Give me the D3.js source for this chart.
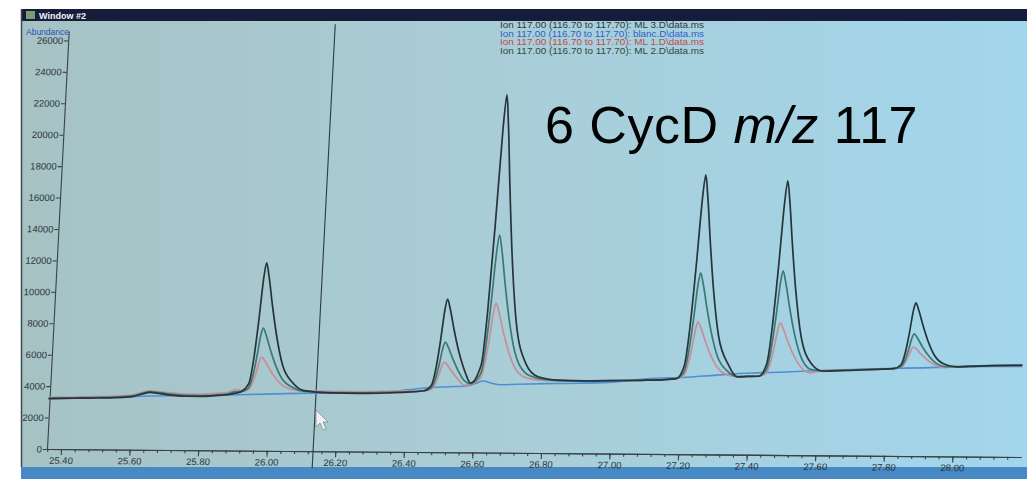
<!DOCTYPE html>
<html>
<head>
<meta charset="utf-8">
<script src="https://cdn.jsdelivr.net/npm/d3@7"></script>
<style>
	body {margin: 0; background: #fff;}
	svg {display: block; font-family: "Liberation Sans", Arial, sans-serif;}
	.axis path, .axis line {stroke: #3a4246; stroke-width: 1.1;}
	.axis text {fill: #2c3336; font-size: 9.5px;}
	.legend text {font-size: 8.2px;}
</style>
</head>
<body>
<div id="graphic"></div>
<script>
// =========================================
// ion chromatogram, m/z 117 (photo of a ChemStation window)
// =========================================

// retention times (min) shared by the three ML runs
var mlTimes = [
	25.356, 25.40, 25.45, 25.50, 25.55, 25.60, 25.63, 25.65, 25.68, 25.72, 25.76, 25.80, 25.84, 25.88, 25.90,
	25.916, 25.937, 25.948, 25.957, 25.965, 25.971, 25.980, 25.994, 26.011, 26.033, 26.066,
	26.10, 26.18, 26.26, 26.34, 26.40,
	26.449, 26.470, 26.481, 26.490, 26.498, 26.504, 26.513, 26.527, 26.544, 26.566,
	26.584,
	26.612, 26.623, 26.632, 26.640, 26.646, 26.655, 26.669, 26.686, 26.708, 26.741,
	26.78, 26.84, 26.92, 27.00, 27.08, 27.14,
	27.183, 27.204, 27.215, 27.224, 27.232, 27.238, 27.247, 27.261, 27.278, 27.300, 27.333,
	27.36, 27.39,
	27.423, 27.444, 27.455, 27.464, 27.472, 27.478, 27.487, 27.501, 27.518, 27.540, 27.573,
	27.61, 27.66, 27.72, 27.77,
	27.815, 27.836, 27.847, 27.856, 27.864, 27.870, 27.879, 27.893, 27.910, 27.932, 27.965,
	28.00, 28.06, 28.12, 28.19
];

var ml3Abund = [
	3200, 3230, 3250, 3270, 3300, 3380, 3560, 3650, 3580, 3480, 3430, 3430, 3480, 3560, 3650,
	3750, 4242, 5800, 8260, 10966, 11950, 11130, 9326, 7358, 5472, 4324,
	3850, 3720, 3700, 3740, 3800,
	3900, 4251, 5363, 7118, 9048, 9750, 9165, 7878, 6474, 5129,
	4420,
	5549, 9028, 14521, 20563, 22760, 20929, 16901, 12506, 8295, 5732,
	4850, 4650, 4620, 4650, 4680, 4720,
	4800, 5579, 8044, 11936, 16218, 17775, 16478, 13623, 10509, 7525, 5708,
	4950, 4980,
	5000, 5746, 8110, 11842, 15947, 17440, 16196, 13459, 10474, 7612, 5871,
	5350, 5400, 5450, 5500,
	5550, 5802, 6599, 7857, 9242, 9745, 9326, 8403, 7396, 6431, 5844,
	5700, 5760, 5800, 5830
];

var ml2Abund = [
	3230, 3260, 3280, 3310, 3340, 3420, 3600, 3700, 3640, 3540, 3480, 3480, 3520, 3620, 3750,
	3750, 3994, 4765, 5983, 7323, 7810, 7404, 6511, 5536, 4603, 4034,
	3800, 3740, 3740, 3780, 3830,
	3900, 4087, 4679, 5613, 6641, 7015, 6704, 6018, 5271, 4554,
	4380,
	5014, 6800, 9620, 12722, 13850, 12910, 10842, 8586, 6424, 5108,
	4750, 4620, 4600, 4640, 4680, 4720,
	4800, 5204, 6485, 8507, 10731, 11540, 10866, 9383, 7766, 6215, 5272,
	4960, 4980,
	5000, 5403, 6678, 8691, 10905, 11710, 11039, 9563, 7952, 6409, 5470,
	5370, 5420, 5470, 5520,
	5550, 5683, 6105, 6771, 7504, 7770, 7548, 7060, 6527, 6016, 5705,
	5720, 5770, 5810, 5840
];

var ml1Abund = [
	3280, 3310, 3330, 3360, 3400, 3480, 3660, 3760, 3700, 3620, 3560, 3560, 3620, 3720, 3900,
	3820, 3883, 4304, 4968, 5699, 5965, 5744, 5256, 4725, 4215, 3905,
	3830, 3820, 3820, 3850, 3880,
	3900, 4010, 4360, 4912, 5519, 5740, 5556, 5151, 4710, 4286,
	4330,
	4754, 5718, 7239, 8912, 9520, 9013, 7898, 6681, 5515, 4805,
	4650, 4600, 4600, 4640, 4690, 4740,
	4800, 5017, 5705, 6791, 7986, 8420, 8058, 7262, 6393, 5560, 5053,
	4970, 4990,
	5000, 5204, 5850, 6870, 7992, 8400, 8060, 7312, 6496, 5714, 5238,
	5400, 5440, 5480, 5520,
	5550, 5633, 5898, 6315, 6773, 6940, 6801, 6495, 6162, 5842, 5647,
	5700, 5750, 5800, 5830
];

// blank run
var blancTimes = [
	25.356, 25.45, 25.55, 25.65, 25.75, 25.85, 25.95, 26.05, 26.15, 26.25, 26.35, 26.40, 26.45,
	26.52, 26.57, 26.60, 26.62, 26.645, 26.67, 26.72, 26.80, 26.90, 27.00, 27.06, 27.12, 27.20,
	27.30, 27.40, 27.50, 27.60, 27.70, 27.80, 27.90, 28.00, 28.10, 28.19
];
var blancAbund = [
	3200, 3260, 3330, 3420, 3460, 3500, 3580, 3650, 3700, 3750, 3820, 3950, 4080,
	4170, 4230, 4400, 4550, 4420, 4320, 4360, 4420, 4460, 4550, 4700, 4820, 4880,
	5050, 5200, 5280, 5400, 5480, 5560, 5620, 5700, 5740, 5760
];

var yTicks = [0, 2000, 4000, 6000, 8000, 10000, 12000, 14000, 16000, 18000, 20000, 22000, 24000, 26000];
var xTicks = [25.40, 25.60, 25.80, 26.00, 26.20, 26.40, 26.60, 26.80, 27.00, 27.20, 27.40, 27.60, 27.80, 28.00];
var cursorTime = 26.135;

var legendLabels = [
	'Ion 117.00 (116.70 to 117.70): ML 3.D\\data.ms',
	'Ion 117.00 (116.70 to 117.70): blanc.D\\data.ms',
	'Ion 117.00 (116.70 to 117.70): ML 1.D\\data.ms',
	'Ion 117.00 (116.70 to 117.70): ML 2.D\\data.ms'
];
var legendColors = ['#30383a', '#2f5fc4', '#c24a4a', '#2f4a3e'];

renderGraphic({
	container: 'graphic',
	width: 1027,
	height: 479
});

function renderGraphic(config) {

	var width = config.width,
		height = config.height;

	// plot frame as seen on the (slanted) screen
	var origin = {x: 47, y: 449},
		chartWidth = 974,
		chartHeight = 418,
		kx = 0.052,	// lean of the verticals
		ky = 0.0082;	// tilt of the time axis

	var svg = d3.select('#' + config.container).append('svg')
		.attr('width', width)
		.attr('height', height);

	var defs = svg.append('defs');
	var grad = defs.append('linearGradient').attr('id', 'screen')
		.attr('x1', 0).attr('x2', 1).attr('y1', 0).attr('y2', 0);
	grad.append('stop').attr('offset', '0%').attr('stop-color', '#a6c2c5');
	grad.append('stop').attr('offset', '45%').attr('stop-color', '#a9cdd6');
	grad.append('stop').attr('offset', '100%').attr('stop-color', '#a2d6ec');

	// window chrome
	svg.append('rect').attr('x', 21).attr('y', 9).attr('width', width - 21).attr('height', 460)
		.attr('fill', 'url(#screen)');
	svg.append('rect').attr('x', 21).attr('y', 9).attr('width', width - 21).attr('height', 12)
		.attr('fill', '#161d3b');
	svg.append('rect').attr('x', 26).attr('y', 11).attr('width', 9).attr('height', 8)
		.attr('fill', '#7d9a74');
	svg.append('text').attr('x', 39).attr('y', 19)
		.attr('fill', '#f2f4f8').attr('font-size', '9px').attr('font-weight', 'bold')
		.text('Window #2');
	svg.append('rect').attr('x', 21).attr('y', 467).attr('width', width - 21).attr('height', 12)
		.attr('fill', '#4689c4');
	svg.append('line').attr('x1', 21.5).attr('x2', 21.5).attr('y1', 9).attr('y2', 467)
		.attr('stroke', '#3b4a50').attr('stroke-width', 1.5);

	svg.append('text').attr('x', 26).attr('y', 35)
		.attr('fill', '#2d50b4').attr('font-size', '8.5px')
		.text('Abundance');

	// sheared plot group
	var chartElement = svg.append('g')
		.attr('transform', 'translate(' + origin.x + ',' + origin.y + ') matrix(1,' + ky + ',' + (-kx) + ',1,0,0) translate(0,' + (-chartHeight) + ')');

	var x = d3.scaleLinear().domain([25.359, 28.200]).range([0, chartWidth]),
		y = d3.scaleLinear().domain([0, 26600]).range([chartHeight, 0]);

	// axes
	chartElement.append('g')
		.attr('class', 'axis axis-y')
		.call(d3.axisLeft(y)
			.tickValues(yTicks)
			.tickSize(4)
			.tickSizeOuter(0)
			.tickPadding(1)
			.tickFormat(d3.format('d')));

	var minorTicks = d3.range(25.36, 28.2, 0.04);
	chartElement.append('g')
		.attr('class', 'axis axis-x-minor')
		.attr('transform', 'translate(0,' + chartHeight + ')')
		.call(d3.axisBottom(x)
			.tickValues(minorTicks)
			.tickSize(3)
			.tickSizeOuter(0)
			.tickFormat(''));

	chartElement.append('g')
		.attr('class', 'axis axis-x')
		.attr('transform', 'translate(0,' + chartHeight + ')')
		.call(d3.axisBottom(x)
			.tickValues(xTicks)
			.tickSize(6)
			.tickSizeOuter(0)
			.tickPadding(2)
			.tickFormat(d3.format('.2f')));

	// cursor line
	chartElement.append('line')
		.attr('x1', x(cursorTime)).attr('x2', x(cursorTime))
		.attr('y1', -9).attr('y2', chartHeight + 17)
		.attr('stroke', '#2b3a44').attr('stroke-width', 1.1);

	// traces
	var line = d3.line()
		.x(function(d) {return x(d[0]);})
		.y(function(d) {return y(d[1]);})
		.curve(d3.curveMonotoneX);

	var series = [
		{name: 'blanc', times: blancTimes, values: blancAbund, color: '#4f8fd6', w: 1.6},
		{name: 'ML 1', times: mlTimes, values: ml1Abund, color: '#c98e96', w: 1.7},
		{name: 'ML 2', times: mlTimes, values: ml2Abund, color: '#3b7a74', w: 1.7},
		{name: 'ML 3', times: mlTimes, values: ml3Abund, color: '#27343a', w: 1.7}
	];

	chartElement.append('g').attr('class', 'traces')
		.selectAll('path')
		.data(series)
		.enter().append('path')
		.attr('fill', 'none')
		.attr('stroke', function(d) {return d.color;})
		.attr('stroke-width', function(d) {return d.w;})
		.attr('stroke-linejoin', 'round')
		.attr('d', function(d) {
			return line(d.times.map(function(t, i) {return [t, d.values[i]];}));
		});

	// legend (top, in window coords)
	svg.append('g').attr('class', 'legend')
		.selectAll('text')
		.data(legendLabels)
		.enter().append('text')
		.attr('x', 500)
		.attr('y', function(d, i) {return 28 + i * 8.6;})
		.attr('textLength', 204)
		.attr('lengthAdjust', 'spacingAndGlyphs')
		.attr('fill', function(d, i) {return legendColors[i];})
		.text(function(d) {return d;});

	// mouse pointer
	svg.append('path')
		.attr('d', 'M316,410 L316,427 L320,423 L323,430 L326,429 L323,422 L328,422 Z')
		.attr('fill', '#eef3f4').attr('stroke', '#7a8a90').attr('stroke-width', 0.8);

	// slide annotation
	var title = svg.append('text')
		.attr('x', 545).attr('y', 143)
		.attr('font-size', '52px')
		.attr('letter-spacing', '0.5px')
		.attr('fill', '#000');
	title.append('tspan').text('6 CycD ');
	title.append('tspan').attr('font-style', 'italic').text('m/z');
	title.append('tspan').text(' 117');

} // end of renderGraphic()
</script>
</body>
</html>
